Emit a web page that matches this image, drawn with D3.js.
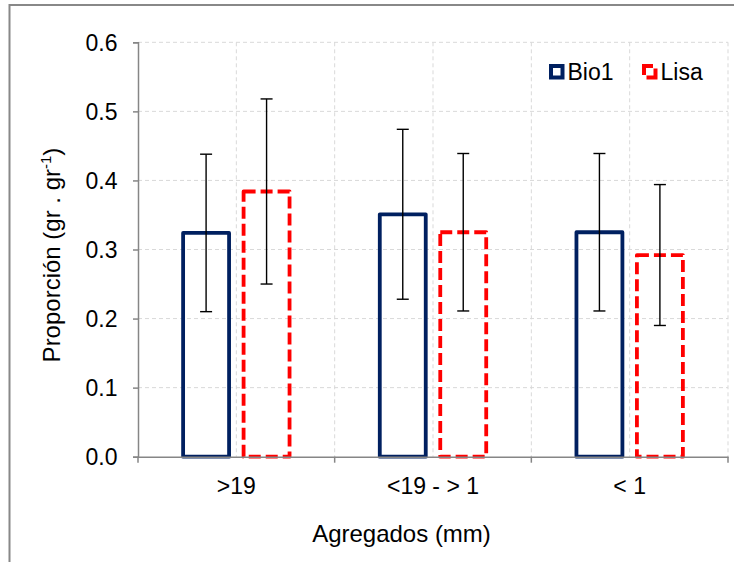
<!DOCTYPE html>
<html>
<head>
<meta charset="utf-8">
<script src="https://cdn.jsdelivr.net/npm/d3@7"></script>
<style>
  html, body { margin: 0; padding: 0; background: #fff; }
  svg { display: block; font-family: "Liberation Sans", Arial, sans-serif; }
</style>
</head>
<body>
<svg id="chart" width="734" height="562"></svg>
<script>
const categories = [">19", "<19 - > 1", "< 1"];
const seriesNames = ["Bio1", "Lisa"];
const bio1Values = [0.324, 0.351, 0.325];
const bio1Errors = [0.114, 0.123, 0.114];
const lisaValues = [0.384, 0.325, 0.292];
const lisaErrors = [0.134, 0.114, 0.102];
const yTicks = [0.0, 0.1, 0.2, 0.3, 0.4, 0.5, 0.6];
const xTitle = "Agregados (mm)";

const seriesStyle = {
  Bio1: { color: "#002060", dash: null },
  Lisa: { color: "#FF0000", dash: "12,5" }
};

const data = categories.map((c, i) => ({
  category: c,
  values: [
    { series: "Bio1", value: bio1Values[i], err: bio1Errors[i] },
    { series: "Lisa", value: lisaValues[i], err: lisaErrors[i] }
  ]
}));

const svg = d3.select("#chart");
const plot = { left: 138, right: 728, top: 42.3, bottom: 456.7 };
const FONT = "Liberation Sans, Arial, sans-serif";

// outer frame
svg.append("rect")
  .attr("x", 9.5).attr("y", 5).attr("width", 900).attr("height", 900)
  .attr("fill", "none").attr("stroke", "#888").attr("stroke-width", 2);

const x0 = d3.scaleBand().domain(categories).range([plot.left, plot.right]).padding(0);
const x1 = d3.scaleBand().domain(seriesNames).range([0, x0.bandwidth()])
  .paddingInner(0.24).paddingOuter(0.746);
const y = d3.scaleLinear().domain([0, 0.6]).range([plot.bottom, plot.top]);

// gridlines horizontal
const grid = svg.append("g");
grid.selectAll("line.h").data(yTicks.filter(t => t > 0)).enter().append("line")
  .attr("x1", plot.left).attr("x2", plot.right)
  .attr("y1", d => y(d)).attr("y2", d => y(d))
  .attr("stroke", "#d9d9d9").attr("stroke-width", 1).attr("stroke-dasharray", "4,3");
// vertical gridlines at half-category steps
const vPos = [];
categories.forEach(c => {
  vPos.push(x0(c) + x0.bandwidth() / 2);
  vPos.push(x0(c) + x0.bandwidth());
});
grid.selectAll("line.v").data(vPos).enter().append("line")
  .attr("x1", d => d).attr("x2", d => d)
  .attr("y1", plot.top).attr("y2", plot.bottom)
  .attr("stroke", "#d9d9d9").attr("stroke-width", 1).attr("stroke-dasharray", "4,3");

// bars
const groups = svg.append("g").selectAll("g").data(data).enter().append("g")
  .attr("transform", d => `translate(${x0(d.category)},0)`);

groups.selectAll("rect").data(d => d.values).enter().append("rect")
  .attr("x", d => x1(d.series))
  .attr("y", d => y(d.value))
  .attr("width", x1.bandwidth())
  .attr("height", d => y(0) - y(d.value))
  .attr("fill", "none")
  .attr("stroke", d => seriesStyle[d.series].color)
  .attr("stroke-width", 3.8)
  .attr("stroke-linejoin", "round")
  .attr("stroke-dasharray", d => seriesStyle[d.series].dash);

// error bars
const eb = groups.selectAll("g.err").data(d => d.values).enter().append("g")
  .attr("stroke", "#000").attr("stroke-width", 1.4);
const cx = d => x1(d.series) + x1.bandwidth() / 2;
eb.append("line")
  .attr("x1", cx).attr("x2", cx)
  .attr("y1", d => y(d.value + d.err)).attr("y2", d => y(d.value - d.err));
eb.append("line")
  .attr("x1", d => cx(d) - 6).attr("x2", d => cx(d) + 6)
  .attr("y1", d => y(d.value + d.err)).attr("y2", d => y(d.value + d.err));
eb.append("line")
  .attr("x1", d => cx(d) - 6).attr("x2", d => cx(d) + 6)
  .attr("y1", d => y(d.value - d.err)).attr("y2", d => y(d.value - d.err));

// y axis
const yAxis = svg.append("g").attr("transform", `translate(${plot.left},0)`)
  .call(d3.axisLeft(y).tickValues(yTicks).tickFormat(d3.format(".1f")).tickSizeOuter(0).tickSize(5).tickPadding(15.5));
yAxis.select(".domain").attr("stroke", "#868686").attr("stroke-width", 1.5);
yAxis.selectAll(".tick line").attr("stroke", "#868686").attr("stroke-width", 1.5);
yAxis.selectAll(".tick text").attr("font-size", 23).attr("fill", "#000")
  .attr("font-family", FONT).attr("dy", "0.36em");

// x axis
const xAxis = svg.append("g").attr("transform", `translate(0,${plot.bottom})`)
  .call(d3.axisBottom(x0).tickSize(0).tickSizeOuter(0));
xAxis.select(".domain").attr("stroke", "#868686").attr("stroke-width", 1.5);
xAxis.selectAll(".tick text").attr("font-size", 23).attr("fill", "#000")
  .attr("font-family", FONT).attr("y", 37.5).attr("dy", 0);
// boundary ticks
const bounds = categories.map(c => x0(c)).concat([x0(categories[categories.length - 1]) + x0.bandwidth()]);
xAxis.selectAll("line.bt").data(bounds).enter().append("line")
  .attr("x1", d => d).attr("x2", d => d).attr("y1", 0).attr("y2", 6)
  .attr("stroke", "#868686").attr("stroke-width", 1.5);

// axis titles
svg.append("text").attr("x", 401.5).attr("y", 541.5)
  .attr("text-anchor", "middle").attr("font-size", 24).attr("font-family", FONT).text(xTitle);

const yt = svg.append("text")
  .attr("transform", `translate(60,255) rotate(-90)`)
  .attr("text-anchor", "middle").attr("font-size", 24).attr("font-family", FONT);
yt.append("tspan").text("Proporción (gr . gr");
yt.append("tspan").attr("font-size", 15).attr("dy", -9).text("-1");
yt.append("tspan").attr("dy", 9).text(")");

// legend
const legendItems = [
  { name: "Bio1", x: 549 },
  { name: "Lisa", x: 642 }
];
const lg = svg.append("g").selectAll("g").data(legendItems).enter().append("g")
  .attr("transform", d => `translate(${d.x},64)`);
lg.append("rect").attr("x", 2).attr("y", 2).attr("width", 11.5).attr("height", 11.5)
  .attr("fill", "none")
  .attr("stroke", d => seriesStyle[d.name].color)
  .attr("stroke-width", 4)
  .attr("stroke-dasharray", d => d.name === "Lisa" ? "9,5,18,5,9" : null);
lg.append("text").attr("x", 18.5).attr("y", 15.5).attr("font-size", 23).attr("font-family", FONT).text(d => d.name);
</script>
</body>
</html>
